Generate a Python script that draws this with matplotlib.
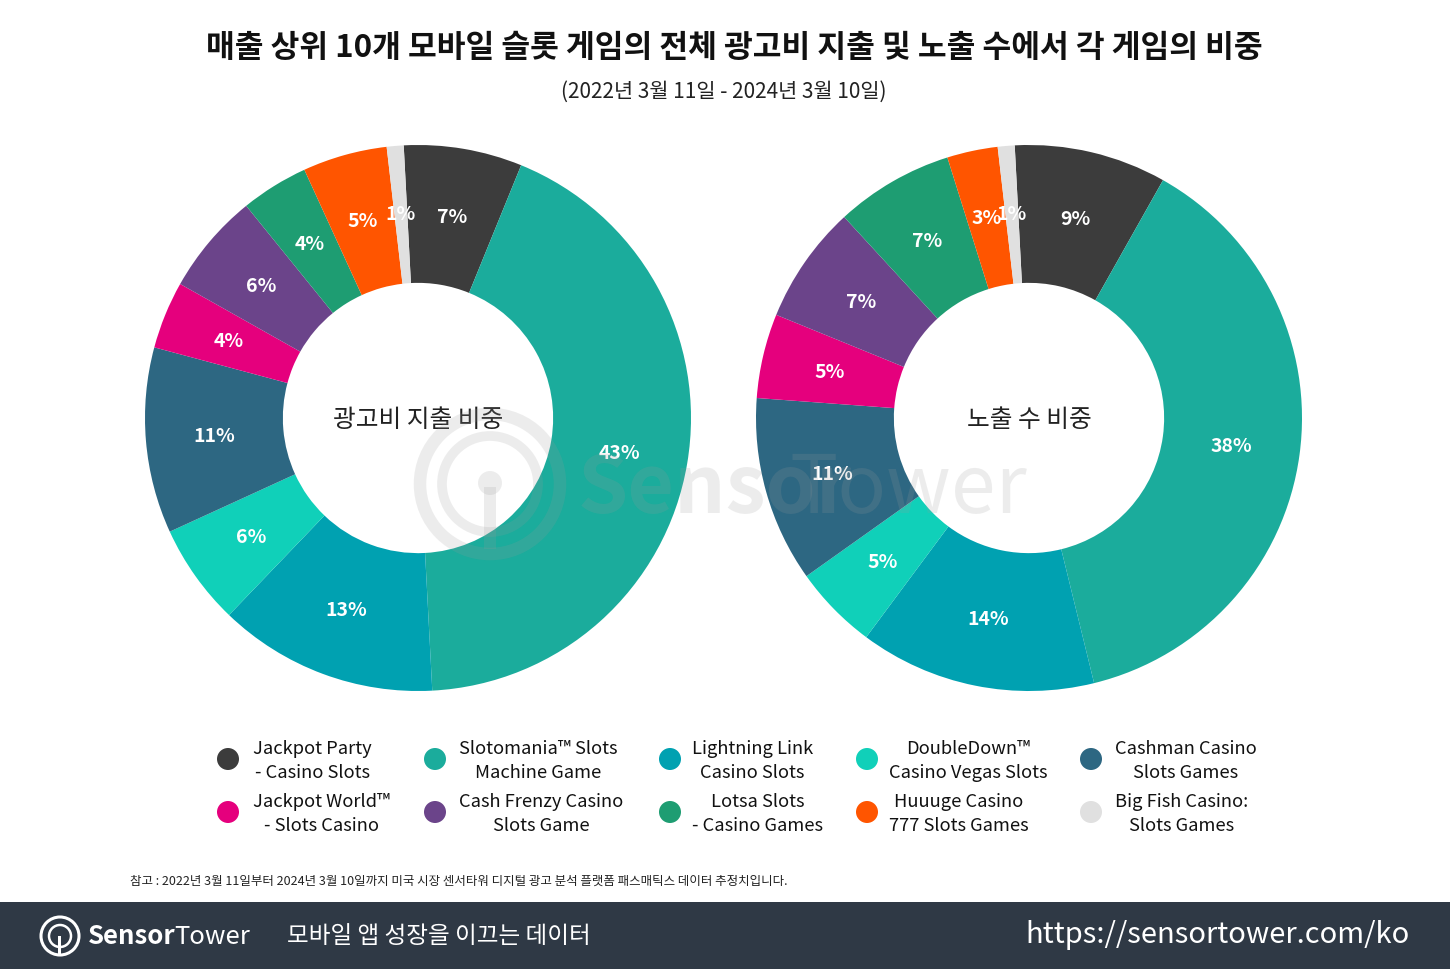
import matplotlib

matplotlib.use("Agg")
import matplotlib.pyplot as plt  # noqa: E402
from matplotlib.patches import Circle, Rectangle  # noqa: E402

plt.rcParams["font.family"] = ["Noto Sans CJK KR", "DejaVu Sans"]

W, H = 1450, 970

games = [
    "Jackpot Party\n- Casino Slots",
    "Slotomania™ Slots\nMachine Game",
    "Lightning Link\nCasino Slots",
    "DoubleDown™\nCasino Vegas Slots",
    "Cashman Casino\nSlots Games",
    "Jackpot World™\n- Slots Casino",
    "Cash Frenzy Casino\nSlots Game",
    "Lotsa Slots\n- Casino Games",
    "Huuuge Casino\n777 Slots Games",
    "Big Fish Casino:\nSlots Games",
]
colors = ["#3c3c3c", "#1bac9c", "#00a1b1", "#10d0b9", "#2d6782",
          "#e5007d", "#6b448a", "#1e9d72", "#ff5500", "#e0e0e0"]

# shares in %, clockwise from the top, same order as games
ad_spend = [7, 43, 13, 6, 11, 4, 6, 4, 5, 1]
impressions = [9, 38, 14, 5, 11, 5, 7, 7, 3, 1]

title = "매출 상위 10개 모바일 슬롯 게임의 전체 광고비 지출 및 노출 수에서 각 게임의 비중"
subtitle = "(2022년 3월 11일 - 2024년 3월 10일)"
note = "참고 : 2022년 3월 11일부터 2024년 3월 10일까지 미국 시장 센서타워 디지털 광고 분석 플랫폼 패스매틱스 데이터 추정치입니다."

fig = plt.figure(figsize=(W / 100, H / 100), dpi=100)

# background / footer band
bg = fig.add_axes([0, 0, 1, 1], zorder=0)
bg.set_xlim(0, W)
bg.set_ylim(H, 0)
bg.axis("off")
bg.add_patch(Rectangle((0, 903), W, 67, color="#2f3945", lw=0))


def donut(cx, cy, r, values, center_label):
    ax = fig.add_axes([(cx - r) / W, (H - cy - r) / H, 2 * r / W, 2 * r / H], zorder=1)
    ax.pie(values, colors=colors, startangle=93, counterclock=False, radius=1,
           wedgeprops=dict(width=0.505, linewidth=0),
           autopct="%.0f%%", pctdistance=0.75,
           textprops=dict(color="white", fontsize=14, fontweight="bold"))
    ax.set_xlim(-1, 1)
    ax.set_ylim(-1, 1)
    ax.text(0, -0.005, center_label, ha="center", va="center", fontsize=17.8, color="#222222")


donut(418, 419, 273, ad_spend, "광고비 지출 비중")
donut(1029, 419, 273, impressions, "노출 수 비중")

ov = fig.add_axes([0, 0, 1, 1], zorder=2)
ov.set_xlim(0, W)
ov.set_ylim(H, 0)
ov.axis("off")

# watermark
wm = "#9a9a9a"
ov.add_patch(Circle((490, 485), 70, fill=False, ec=wm, lw=9, alpha=0.18))
ov.add_patch(Circle((490, 485), 48, fill=False, ec=wm, lw=7, alpha=0.18))
ov.add_patch(Rectangle((484, 488), 12, 62, color=wm, alpha=0.18, lw=0))
ov.add_patch(Circle((490, 484), 12, color=wm, alpha=0.18, lw=0))
ov.text(578, 490, "Sensor", fontsize=58, fontweight="bold", color=wm, alpha=0.18,
        ha="left", va="center")
ov.text(790, 490, "Tower", fontsize=58, color=wm, alpha=0.18, ha="left", va="center")

ov.text(734, 48, title, ha="center", va="center", fontsize=22.5, fontweight="bold", color="#111111")
ov.text(724, 92, subtitle, ha="center", va="center", fontsize=15, color="#222222")

# legend
mx = [228, 435, 670, 867, 1091]
tx = [253, 459, 692, 889, 1115]
my = [760, 813]
for i, name in enumerate(games):
    row, col = divmod(i, 5)
    ov.add_patch(Circle((mx[col], my[row]), 11, color=colors[i], lw=0))
    ov.text(tx[col], my[row] + 1, name, ha="left", va="center", multialignment="center",
            fontsize=13.2, color="#111111", linespacing=1.45)

ov.text(130, 881, note, ha="left", va="center", fontsize=9, color="#222222")

# footer
ov.add_patch(Circle((60, 937), 19, fill=False, ec="white", lw=2.2))
ov.add_patch(Circle((60, 937), 11, fill=False, ec="white", lw=1.8))
ov.add_patch(Rectangle((58.5, 937), 3, 18, color="white", lw=0))
ov.text(88, 937, "Sensor", fontsize=18.5, fontweight="bold", color="white", ha="left", va="center")
ov.text(174, 937, "Tower", fontsize=18.5, color="white", ha="left", va="center")
ov.text(287, 937, "모바일 앱 성장을 이끄는 데이터", fontsize=17, color="white", ha="left", va="center")
ov.text(1410, 935, "https://sensortower.com/ko", fontsize=21, color="white", ha="right", va="center")

fig.savefig("out.png", dpi=100)
